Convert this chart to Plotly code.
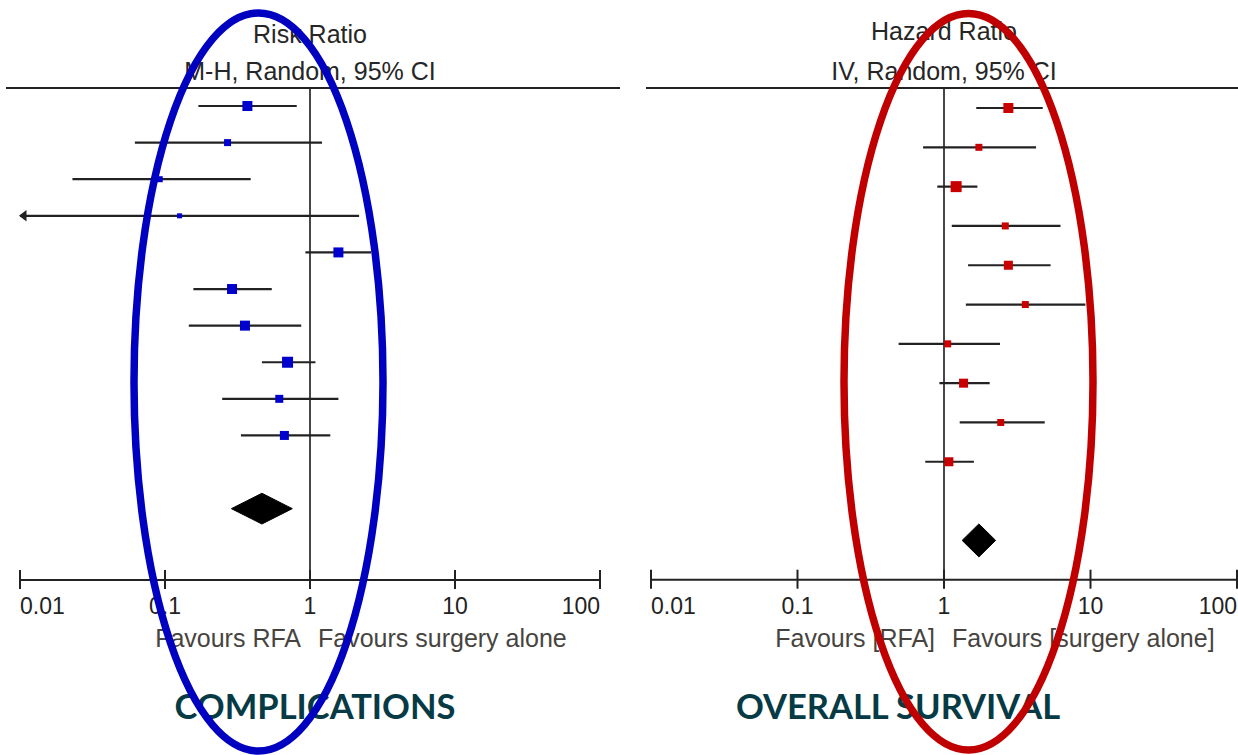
import plotly.graph_objects as go

W, H = 1238, 755

# ---------------- data ----------------
comp_rr = [0.37, 0.27, 0.092, 0.126, 1.57, 0.29, 0.356, 0.70, 0.614, 0.666]
comp_lo = [0.17, 0.062, 0.023, 0.006, 0.93, 0.157, 0.146, 0.466, 0.248, 0.334]
comp_hi = [0.81, 1.21, 0.39, 2.18, 2.64, 0.545, 0.87, 1.09, 1.57, 1.38]
comp_size = [10, 7, 6, 5, 10, 10, 10, 11, 8, 9]
comp_pooled = [0.466, 0.287, 0.755]  # estimate, lower, upper

os_hr = [2.75, 1.73, 1.21, 2.62, 2.75, 3.59, 1.06, 1.36, 2.44, 1.08]
os_lo = [1.66, 0.72, 0.90, 1.13, 1.46, 1.41, 0.49, 0.93, 1.28, 0.745]
os_hi = [4.72, 4.25, 1.69, 6.24, 5.34, 9.23, 2.41, 2.05, 4.87, 1.60]
os_size = [10, 7, 11, 7, 9, 7, 7, 9, 7, 9]
os_pooled = [1.73, 1.33, 2.25]

tick_vals = [0.01, 0.1, 1, 10, 100]
tick_text = ["0.01", "0.1", "1", "10", "100"]

# ---------------- layout geometry ----------------
SPLIT = 620
LEFT = dict(xr=[-2.1379, 2.1379], yr=[17.73, -2.896], px=(0, SPLIT),
            xa="x", ya="y", color="#0000CC", axis_row=12.95)
RIGHT = dict(xr=[-2.2116, 2.0068], yr=[16.46, -2.748], px=(SPLIT, W),
             xa="x2", ya="y2", color="#C80000", axis_row=12.0)
TEXT_SHIFT = 3  # px: plotly's "middle" text sits slightly high


def yv(p, P):
    yr = P["yr"]
    return yr[1] + (yr[0] - yr[1]) * p / H


def xv(p, P):
    xr = P["xr"]
    a, b = P["px"]
    return 10 ** (xr[0] + (xr[1] - xr[0]) * (p - a) / (b - a))


fig = go.Figure()
LINE = "#222222"
TXT = "Liberation Sans, Arial, sans-serif"


def text(P, x, ypx, s, pos, size, color, family=TXT):
    fig.add_trace(go.Scatter(x=[x], y=[yv(ypx + TEXT_SHIFT, P)], mode="text", text=[s],
                             textposition=pos,
                             textfont=dict(family=family, size=size, color=color),
                             xaxis=P["xa"], yaxis=P["ya"], hoverinfo="skip"))


def panel(P, est, lo, hi, size, pooled, titles, fav_l, fav_r, bottom, bottom_x):
    xa, ya = P["xa"], P["ya"]
    n = len(est)
    rows = list(range(n))
    xmin, xmax = tick_vals[0], tick_vals[-1]
    top = yv(88, P)
    ar = P["axis_row"]
    # vertical line of no effect
    fig.add_trace(go.Scatter(x=[1, 1], y=[top, ar], mode="lines",
                             line=dict(color="#333333", width=1.8),
                             xaxis=xa, yaxis=ya, hoverinfo="skip"))
    # CI lines
    xs, ys = [], []
    arrows_x, arrows_y = [], []
    for i in rows:
        l = max(lo[i], xmin)
        h = min(hi[i], xmax)
        xs += [l, h, None]
        ys += [i, i, None]
        if lo[i] < xmin:
            arrows_x.append(xmin * 10 ** (4 / 145))
            arrows_y.append(i)
    fig.add_trace(go.Scatter(x=xs, y=ys, mode="lines",
                             line=dict(color=LINE, width=2.2),
                             xaxis=xa, yaxis=ya, hoverinfo="skip"))
    if arrows_x:
        fig.add_trace(go.Scatter(x=arrows_x, y=arrows_y, mode="markers",
                                 marker=dict(symbol="triangle-left", size=10,
                                             color=LINE, line=dict(width=0)),
                                 xaxis=xa, yaxis=ya, hoverinfo="skip"))
    # squares
    fig.add_trace(go.Scatter(x=est, y=rows, mode="markers",
                             marker=dict(symbol="square", size=size,
                                         color=P["color"], opacity=1,
                                         line=dict(width=0)),
                             xaxis=xa, yaxis=ya))
    # pooled diamond
    e, l, h = pooled
    r = n + 1
    hh = 0.42
    fig.add_trace(go.Scatter(x=[l, e, h, e, l], y=[r, r - hh, r, r + hh, r],
                             mode="lines", fill="toself", fillcolor="black",
                             line=dict(color="black", width=1),
                             xaxis=xa, yaxis=ya, hoverinfo="skip"))
    # bottom axis
    fig.add_trace(go.Scatter(x=[xmin, xmax], y=[ar, ar], mode="lines",
                             line=dict(color=LINE, width=2),
                             xaxis=xa, yaxis=ya, hoverinfo="skip"))
    tx, ty = [], []
    up = yv(10, P) - yv(0, P)
    dn = yv(9, P) - yv(0, P)
    for t in tick_vals:
        tx += [t, t, None]
        ty += [ar - up, ar + dn, None]
    fig.add_trace(go.Scatter(x=tx, y=ty, mode="lines",
                             line=dict(color=LINE, width=2),
                             xaxis=xa, yaxis=ya, hoverinfo="skip"))
    # tick labels
    pos = ["middle right"] + ["middle center"] * (len(tick_vals) - 2) + ["middle left"]
    for t, s, ps in zip(tick_vals, tick_text, pos):
        text(P, t, 605, s, ps, 23, "#222222")
    # favours labels
    x1px = P["px"][0] + (0 - P["xr"][0]) / (P["xr"][1] - P["xr"][0]) * (P["px"][1] - P["px"][0])
    text(P, xv(x1px - 9, P), 638, fav_l, "middle left", 25, "#474440")
    text(P, xv(x1px + 8, P), 638, fav_r, "middle right", 25, "#474440")
    # titles
    for s, yp in titles:
        text(P, 1, yp, s, "middle center", 25, "#262626")
    # bottom heading
    text(P, xv(bottom_x, P), 707, "<b>" + bottom + "</b>", "middle center",
         34.5, "#063A44", family="Lato, Open Sans, sans-serif")


panel(LEFT, comp_rr, comp_lo, comp_hi, comp_size, comp_pooled,
      [("Risk Ratio", 34), ("M-H, Random, 95% CI", 71)],
      "Favours RFA", "Favours surgery alone", "COMPLICATIONS", 315)
panel(RIGHT, os_hr, os_lo, os_hi, os_size, os_pooled,
      [("Hazard Ratio", 31), ("IV, Random, 95% CI", 71)],
      "Favours [RFA]", "Favours [surgery alone]", "OVERALL SURVIVAL", 898)

# horizontal header lines
shapes = [
    dict(type="line", xref="paper", yref="paper", x0=6 / W, x1=SPLIT / W,
         y0=1 - 88 / H, y1=1 - 88 / H, line=dict(color=LINE, width=2)),
    dict(type="line", xref="paper", yref="paper", x0=646 / W, x1=1,
         y0=1 - 88 / H, y1=1 - 88 / H, line=dict(color=LINE, width=2)),
    # highlighting ellipses
    dict(type="circle", xref="paper", yref="paper", layer="above",
         x0=134 / W, x1=383 / W, y0=1 - 751 / H, y1=1 - 13 / H,
         line=dict(color="#0000C0", width=7.5)),
    dict(type="circle", xref="paper", yref="paper", layer="above",
         x0=844 / W, x1=1093 / W, y0=1 - 750 / H, y1=1 - 13.5 / H,
         line=dict(color="#C00000", width=7.5)),
]


def ax(P):
    return dict(domain=[P["px"][0] / W, P["px"][1] / W], type="log",
                range=P["xr"], visible=False, fixedrange=True)


def ay(P):
    return dict(domain=[0, 1], range=P["yr"], visible=False, fixedrange=True)


fig.update_layout(
    width=W, height=H, margin=dict(l=0, r=0, t=0, b=0),
    paper_bgcolor="white", plot_bgcolor="white", showlegend=False,
    xaxis=ax(LEFT), yaxis=ay(LEFT),
    xaxis2=dict(ax(RIGHT), anchor="y2"), yaxis2=dict(ay(RIGHT), anchor="x2"),
    shapes=shapes,
)
fig.update_traces(cliponaxis=False)

fig.write_html("out.html", config={"displayModeBar": False},
               post_script="document.body.style.margin='0';document.body.style.overflow='hidden';")
